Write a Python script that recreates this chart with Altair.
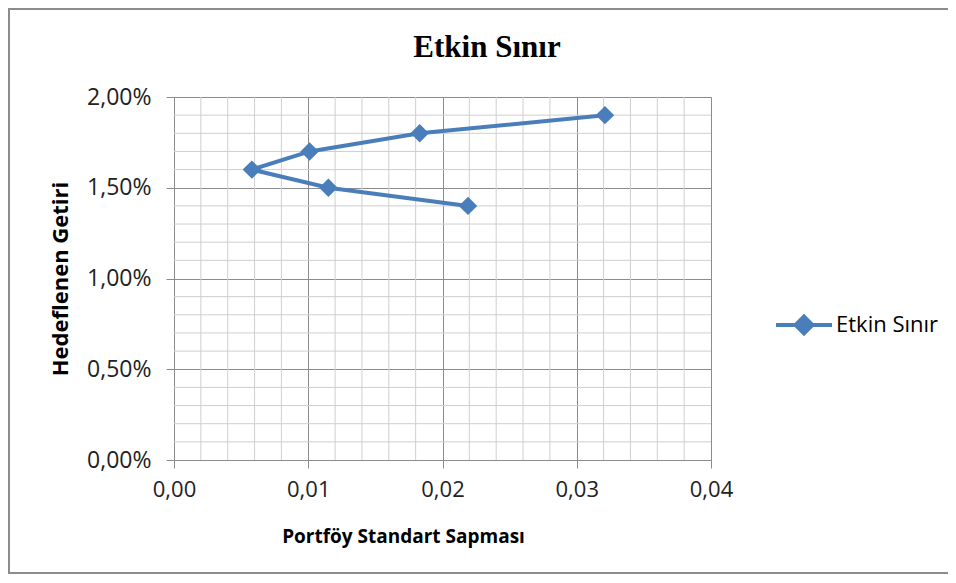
import altair as alt
import pandas as pd

# data
std_dev = [0.0219, 0.0115, 0.0058, 0.0101, 0.0183, 0.0321]
target_return = [0.014, 0.015, 0.016, 0.017, 0.018, 0.019]
series_name = "Etkin Sınır"

x_major = [0.0, 0.01, 0.02, 0.03, 0.04]
y_major = [0.0, 0.005, 0.01, 0.015, 0.02]
x_minor = [0.002, 0.004, 0.006, 0.008, 0.012, 0.014, 0.016, 0.018,
           0.022, 0.024, 0.026, 0.028, 0.032, 0.034, 0.036, 0.038]
y_minor = [0.001, 0.002, 0.003, 0.004, 0.006, 0.007, 0.008, 0.009,
           0.011, 0.012, 0.013, 0.014, 0.016, 0.017, 0.018, 0.019]

BLUE = "#4A7EBB"
FONT = "Open Sans"

df = pd.DataFrame({"x": std_dev, "y": target_return, "series": series_name,
                   "order": list(range(len(std_dev)))})
gx = pd.DataFrame({"v": x_minor})
gy = pd.DataFrame({"v": y_minor})

xscale = alt.Scale(domain=[0, 0.04], nice=False, zero=True)
yscale = alt.Scale(domain=[0, 0.02], nice=False, zero=True)

xaxis = alt.Axis(values=x_major, labelExpr="replace(format(datum.value, '.2f'), '.', ',')",
                 title="Portföy Standart  Sapması", titleFont=FONT, titleFontSize=19,
                 titleFontWeight="bold", titleColor="#000000",
                 titleX=229, titleY=76, titleBaseline="middle", titleAnchor="start", titleAlign="center",
                 labelFont=FONT, labelFontSize=22, labelColor="#222222", labelPadding=11,
                 tickSize=8, tickColor="#8C8C8C", domainColor="#8C8C8C",
                 grid=True, gridColor="#8C8C8C", gridWidth=1, labelFlush=False)
yaxis = alt.Axis(values=y_major, labelExpr="replace(format(datum.value, '.2%'), '.', ',')",
                 title="Hedeflenen Getiri", titleFont=FONT, titleFontSize=22,
                 titleFontWeight="bold", titleColor="#000000", titlePadding=14,
                 labelFont=FONT, labelFontSize=23, labelColor="#222222", labelPadding=15,
                 tickSize=8, tickColor="#8C8C8C", domainColor="#8C8C8C",
                 grid=True, gridColor="#8C8C8C", gridWidth=1, labelFlush=False)

vgrid = alt.Chart(gx).mark_rule(color="#CFCFCF", strokeWidth=1).encode(
    x=alt.X("v:Q", scale=xscale, axis=xaxis))
hgrid = alt.Chart(gy).mark_rule(color="#CFCFCF", strokeWidth=1).encode(
    y=alt.Y("v:Q", scale=yscale, axis=yaxis))

legend_path = "M-1,0L1,0M-0.3,0L0,-0.3L0.3,0L0,0.3Z"

line = alt.Chart(df).mark_line(strokeWidth=4).encode(
    x=alt.X("x:Q", scale=xscale, axis=xaxis),
    y=alt.Y("y:Q", scale=yscale, axis=yaxis),
    order=alt.Order("order:Q"),
    color=alt.Color("series:N", scale=alt.Scale(range=[BLUE]),
                    legend=alt.Legend(title=None, orient="none", legendX=600, legendY=198,
                                      symbolType=legend_path, symbolSize=3136,
                                      symbolStrokeWidth=4, symbolFillColor=BLUE,
                                      symbolStrokeColor=BLUE, symbolOpacity=1,
                                      labelFont=FONT, labelFontSize=22,
                                      labelColor="#000000", labelOffset=2, padding=0)),
)
points = alt.Chart(df).mark_point(shape="diamond", filled=True, size=340, opacity=1,
                                  color=BLUE).encode(
    x=alt.X("x:Q", scale=xscale, axis=xaxis),
    y=alt.Y("y:Q", scale=yscale, axis=yaxis),
)

title_df = pd.DataFrame({"t": ["Etkin Sınır"]})
title = alt.Chart(title_df).mark_text(font="Liberation Serif", fontSize=31, fontWeight="bold",
                                      color="#000000", align="center", baseline="alphabetic").encode(
    text="t:N", x=alt.value(313), y=alt.value(-40))

frame_df = pd.DataFrame({"a": [0]})
frame = alt.Chart(frame_df).mark_rect(filled=False, stroke="#8C8C8C", strokeWidth=2,
                                      fill="transparent").encode(
    x=alt.value(-165), x2=alt.value(820), y=alt.value(-88), y2=alt.value(476))

chart = alt.layer(vgrid, hgrid, line, points, title, frame).properties(
    width=537, height=363,
    autosize=alt.AutoSizeParams(type="none"),
    padding={"left": 166, "top": 89, "right": 237, "bottom": 114},
    background="white",
).configure_view(strokeWidth=0)

chart.save("out.html", embed_options={"renderer": "svg", "actions": False})
